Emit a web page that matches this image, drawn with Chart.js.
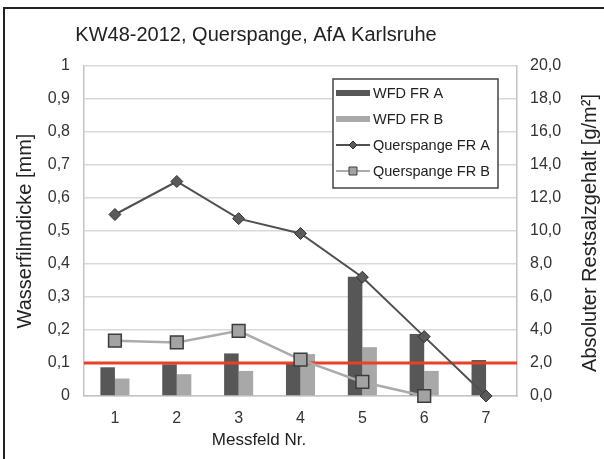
<!DOCTYPE html>
<html>
<head>
<meta charset="utf-8">
<script src="https://cdn.jsdelivr.net/npm/chart.js@4.4.0/dist/chart.umd.min.js"></script>
<style>
  body { margin: 0; background: #fff; }
  #wrap { position: relative; width: 604px; height: 459px; }
  #frame { position: absolute; left: 3px; top: 7px; right: 0; bottom: 0; border-top: 2px solid #222; border-left: 2px solid #222; pointer-events: none; }
</style>
</head>
<body>
<div id="wrap">
  <canvas id="myChart" width="604" height="459"></canvas>
  <div id="frame"></div>
</div>
<script>
// Werte
const messfelder = ['1', '2', '3', '4', '5', '6', '7'];
const wfdFrA = [0.087, 0.096, 0.129, 0.100, 0.361, 0.188, 0.109];
const wfdFrB = [0.053, 0.066, 0.076, 0.127, 0.148, 0.076, 0];
const querspangeFrA = [11.0, 13.0, 10.75, 9.85, 7.2, 3.6, 0.0];
const querspangeFrB = [3.35, 3.25, 3.95, 2.2, 0.85, 0.0, null];
const grenzwert = 0.1;

const leftTicks = ['0', '0,1', '0,2', '0,3', '0,4', '0,5', '0,6', '0,7', '0,8', '0,9', '1'];
const rightTicks = ['0,0', '2,0', '4,0', '6,0', '8,0', '10,0', '12,0', '14,0', '16,0', '18,0', '20,0'];

const chartTitle = 'KW48-2012, Querspange, AfA Karlsruhe';
const xTitle = 'Messfeld Nr.';
const leftTitle = 'Wasserfilmdicke [mm]';
const rightTitle = 'Absoluter Restsalzgehalt [g/m²]';

const ctx = document.getElementById('myChart');
const FONT = '"Liberation Sans", Arial, sans-serif';
Chart.defaults.font.family = FONT;
Chart.defaults.color = '#333';

// Grenzwertlinie zwischen Balken und Linien zeichnen
const limitLine = {
  id: 'limitLine',
  afterDatasetDraw(chart, args) {
    if (args.index !== 0) return;
    const y = chart.scales.y.getPixelForValue(grenzwert);
    const area = chart.chartArea;
    const c = chart.ctx;
    c.save();
    c.strokeStyle = '#e8402a';
    c.lineWidth = 3;
    c.beginPath();
    c.moveTo(area.left, y);
    c.lineTo(area.right, y);
    c.stroke();
    c.restore();
  }
};

const extras = {
  id: 'extras',
  afterDraw(chart) {
    const c = chart.ctx;
    c.save();
    c.fillStyle = '#222';
    c.textAlign = 'center';
    c.textBaseline = 'middle';
    c.font = '20px ' + FONT;
    c.fillText(chartTitle, 256, 35);
    c.font = '17px ' + FONT;
    c.fillText(xTitle, 259, 440);
    c.font = '20px ' + FONT;
    c.translate(590, 233);
    c.rotate(-Math.PI / 2);
    c.fillText(rightTitle, 0, 0);
    c.restore();

    // Legende
    c.save();
    c.fillStyle = '#fff';
    c.fillRect(333, 79, 165, 109);
    c.strokeStyle = '#444';
    c.lineWidth = 1.5;
    c.strokeRect(333, 79, 165, 109);
    c.font = '14.5px ' + FONT;
    c.textAlign = 'left';
    c.textBaseline = 'middle';
    chart.data.datasets.forEach((ds, i) => {
      const y = 93 + i * 26;
      if (ds.type === 'bar') {
        c.fillStyle = ds.backgroundColor;
        c.fillRect(336, y - 3, 34, 6);
      } else {
        c.strokeStyle = ds.borderColor;
        c.lineWidth = 2;
        c.beginPath();
        c.moveTo(336, y);
        c.lineTo(370, y);
        c.stroke();
        c.fillStyle = ds.pointBackgroundColor;
        c.strokeStyle = ds.pointBorderColor;
        c.lineWidth = 1;
        c.beginPath();
        if (ds.pointStyle === 'rectRot') {
          c.moveTo(353 - 4, y); c.lineTo(353, y - 4); c.lineTo(353 + 4, y); c.lineTo(353, y + 4); c.closePath();
        } else {
          c.rect(353 - 4, y - 4, 8, 8);
        }
        c.fill();
        c.stroke();
      }
      c.fillStyle = '#222';
      c.fillText(ds.label, 373, y + 1);
    });
    c.restore();
  }
};

const config = {
  type: 'bar',
  data: {
    labels: messfelder,
    datasets: [
      {
        type: 'bar',
        label: 'WFD FR A',
        data: wfdFrA,
        backgroundColor: '#575757',
        yAxisID: 'y',
        categoryPercentage: 0.47,
        barPercentage: 1,
        order: 3
      },
      {
        type: 'bar',
        label: 'WFD FR B',
        data: wfdFrB,
        backgroundColor: '#a8a8a8',
        yAxisID: 'y',
        categoryPercentage: 0.47,
        barPercentage: 1,
        order: 3
      },
      {
        type: 'line',
        label: 'Querspange FR A',
        data: querspangeFrA,
        grouped: false,
        clip: false,
        borderColor: '#505050',
        borderWidth: 2,
        pointStyle: 'rectRot',
        pointRadius: 6,
        pointBackgroundColor: '#5a5a5a',
        pointBorderColor: '#333',
        pointBorderWidth: 1,
        tension: 0,
        yAxisID: 'y1',
        order: 1
      },
      {
        type: 'line',
        label: 'Querspange FR B',
        data: querspangeFrB,
        grouped: false,
        clip: false,
        borderColor: '#ababab',
        borderWidth: 2.5,
        pointStyle: 'rect',
        pointRadius: 9,
        pointBackgroundColor: '#a3a3a3',
        pointBorderColor: '#3c3c3c',
        pointBorderWidth: 1.5,
        tension: 0,
        yAxisID: 'y1',
        order: 1
      }
    ]
  },
  options: {
    responsive: false,
    animation: false,
    devicePixelRatio: 1,
    layout: { padding: { top: 66, left: 0, right: 0, bottom: 0 } },
    plugins: {
      legend: { display: false },
      tooltip: { enabled: false }
    },
    scales: {
      x: {
        type: 'category',
        offset: true,
        grid: { display: false, drawTicks: false },
        border: { display: true, color: '#c4c4c4', width: 1.5 },
        ticks: { padding: 13, font: { size: 16 }, color: '#333' },
        afterFit: (s) => { s.height = 63; }
      },
      y: {
        position: 'left',
        min: 0,
        max: 1,
        ticks: {
          stepSize: 0.1,
          padding: 14,
          font: { size: 16 },
          color: '#333',
          callback: (value, index) => leftTicks[index]
        },
        grid: { color: '#d9d9d9', lineWidth: 1.5, drawTicks: false },
        border: { display: true, color: '#c4c4c4', width: 1.5 },
        title: { display: true, text: leftTitle, font: { size: 20 }, color: '#222', padding: { top: 13, bottom: 0 } },
        afterFit: (s) => { s.width = 84; }
      },
      y1: {
        position: 'right',
        min: 0,
        max: 20,
        ticks: {
          stepSize: 2,
          padding: 13,
          font: { size: 16 },
          color: '#333',
          callback: (value, index) => rightTicks[index]
        },
        grid: { display: false, drawTicks: false },
        border: { display: true, color: '#c4c4c4', width: 1.5 },
        afterFit: (s) => { s.width = 87; }
      }
    }
  },
  plugins: [limitLine, extras]
};

const graph = new Chart(ctx, config);
</script>
</body>
</html>
